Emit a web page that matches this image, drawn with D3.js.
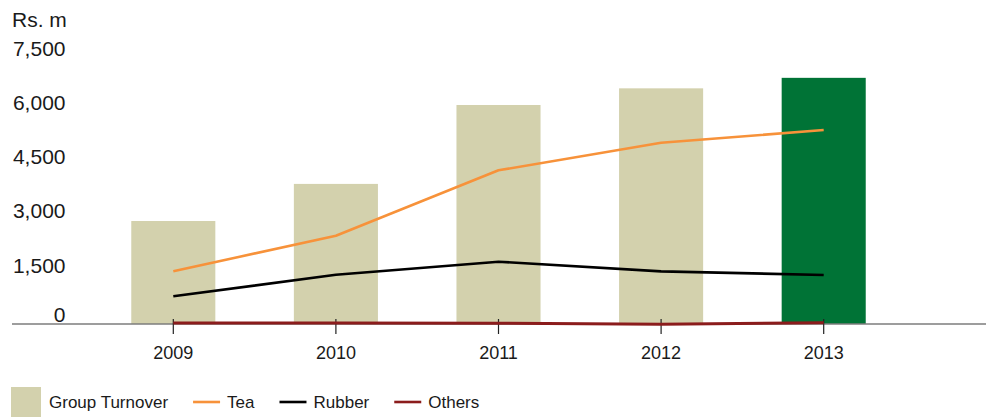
<!DOCTYPE html>
<html>
<head>
<meta charset="utf-8">
<script src="https://cdn.jsdelivr.net/npm/d3@7/dist/d3.min.js"></script>
<style>
  html, body { margin: 0; padding: 0; background: #fff; }
  svg { display: block; font-family: "Liberation Sans", Arial, Helvetica, sans-serif; }
</style>
</head>
<body>
<svg id="chart" width="986" height="417"></svg>
<script>
// Turnover by segment, Rs. million
const years = ["2009", "2010", "2011", "2012", "2013"];
const groupTurnover = [2845, 3870, 6050, 6510, 6800];
const tea = [1455, 2440, 4245, 5005, 5360];
const rubber = [765, 1360, 1720, 1455, 1355];
const others = [25, 25, 20, -10, 35];
const yTicks = [0, 1500, 3000, 4500, 6000, 7500];
const unitLabel = "Rs. m";

const colors = {
  bar: "#d3d1ad",
  barLatest: "#007336",
  tea: "#f7923a",
  rubber: "#000000",
  others: "#8b1c1c",
  axis: "#7d7d7d",
  text: "#1a1a1a"
};

const svg = d3.select("#chart");

const x = d3.scaleBand()
  .domain(years)
  .range([92, 905])
  .paddingInner(0.483)
  .paddingOuter(0.2415);

const y = d3.scaleLinear()
  .domain([0, 7500])
  .range([324, 52.5]);

// bars
svg.append("g")
  .selectAll("rect")
  .data(years)
  .join("rect")
  .attr("x", d => x(d))
  .attr("width", x.bandwidth())
  .attr("y", (d, i) => y(groupTurnover[i]))
  .attr("height", (d, i) => y(0) - y(groupTurnover[i]))
  .attr("fill", (d, i) => i === years.length - 1 ? colors.barLatest : colors.bar);

// baseline
svg.append("line")
  .attr("x1", 12).attr("x2", 986)
  .attr("y1", y(0)).attr("y2", y(0))
  .attr("stroke", colors.axis)
  .attr("stroke-width", 1.5);

// x axis ticks and labels
const xAxis = d3.axisBottom(x).tickSize(0).tickPadding(0);
const gx = svg.append("g")
  .attr("transform", `translate(0,${y(0)})`)
  .call(xAxis);
gx.select(".domain").remove();
gx.selectAll(".tick line")
  .attr("y1", -5).attr("y2", 10)
  .attr("stroke", "#222")
  .attr("stroke-width", 1.2);
gx.selectAll(".tick text")
  .attr("y", 35)
  .attr("dy", null)
  .attr("font-size", 18)
  .attr("font-family", "Liberation Sans, Arial, sans-serif")
  .attr("fill", colors.text);

// y axis labels
const yAxis = d3.axisLeft(y).tickValues(yTicks).tickSize(0).tickPadding(0)
  .tickFormat(d3.format(","));
const gy = svg.append("g")
  .attr("transform", "translate(65.5,0)")
  .call(yAxis);
gy.select(".domain").remove();
gy.selectAll(".tick text")
  .attr("x", 0)
  .attr("dy", d => d === 0 ? "-2.5" : "2.5")
  .attr("font-size", 21)
  .attr("font-family", "Liberation Sans, Arial, sans-serif")
  .attr("fill", colors.text)
  .attr("text-anchor", "end");
gy.selectAll(".tick").each(function () {
  // keep alphabetic baseline positioning
  d3.select(this).select("text").attr("dominant-baseline", "alphabetic");
});

svg.append("text")
  .attr("x", 12)
  .attr("y", 26.5)
  .attr("font-size", 21)
  .attr("fill", colors.text)
  .text(unitLabel);

// lines
const line = d3.line()
  .x((d, i) => x(years[i]) + x.bandwidth() / 2)
  .y(d => y(d));

const series = [
  { name: "Others", values: others, color: colors.others, width: 3 },
  { name: "Rubber", values: rubber, color: colors.rubber, width: 2.6 },
  { name: "Tea", values: tea, color: colors.tea, width: 2.6 }
];

svg.append("g")
  .selectAll("path")
  .data(series)
  .join("path")
  .attr("d", d => line(d.values))
  .attr("fill", "none")
  .attr("stroke", d => d.color)
  .attr("stroke-width", d => d.width)
  .attr("stroke-linejoin", "round");

// legend
const legendItems = [
  { name: "Group Turnover", type: "swatch", color: colors.bar },
  { name: "Tea", type: "line", color: colors.tea },
  { name: "Rubber", type: "line", color: colors.rubber },
  { name: "Others", type: "line", color: colors.others }
];

const legend = svg.append("g").attr("transform", "translate(11,0)");
let cx = 0;
legendItems.forEach(item => {
  const g = legend.append("g").attr("transform", `translate(${cx},0)`);
  let tx;
  if (item.type === "swatch") {
    g.append("rect")
      .attr("x", 0).attr("y", 387)
      .attr("width", 30).attr("height", 30)
      .attr("fill", item.color);
    tx = 38;
  } else {
    g.append("line")
      .attr("x1", 0).attr("x2", 27)
      .attr("y1", 402).attr("y2", 402)
      .attr("stroke", item.color)
      .attr("stroke-width", 2.6);
    tx = 34;
  }
  const t = g.append("text")
    .attr("x", tx)
    .attr("y", 408)
    .attr("font-size", 17)
    .attr("fill", colors.text)
    .text(item.name);
  cx += tx + t.node().getComputedTextLength() + 25;
});
</script>
</body>
</html>
